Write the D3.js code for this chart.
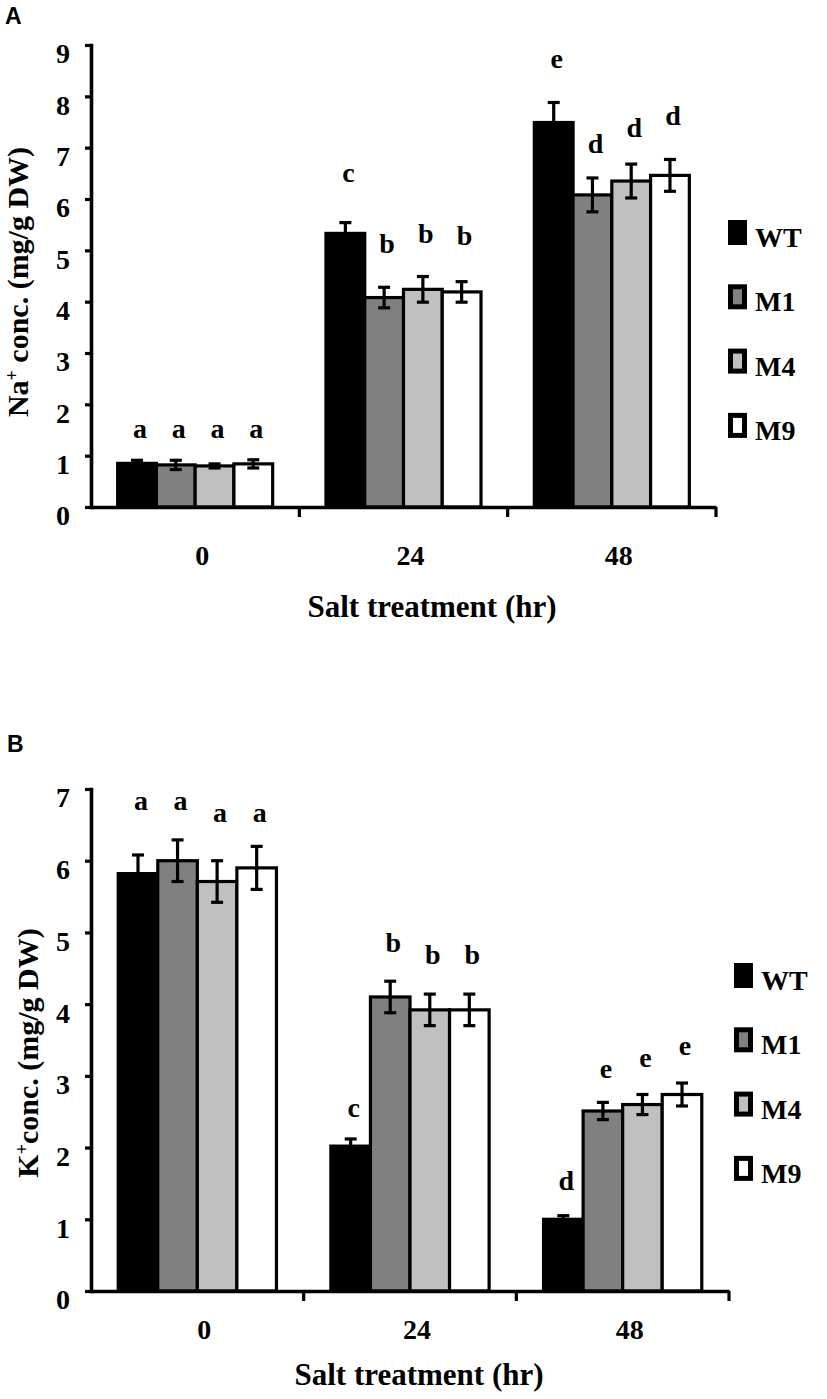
<!DOCTYPE html>
<html>
<head>
<meta charset="utf-8">
<script src="https://cdn.jsdelivr.net/npm/d3@7"></script>
<style>
  body { margin: 0; background: #fff; }
  text { font-family: 'Liberation Serif', 'Times New Roman', serif; font-weight: bold; fill: #000; }
</style>
</head>
<body>
<div id="chart"></div>
<script>
// categories / series
const groups = ['0', '24', '48'];
const series = ['WT', 'M1', 'M4', 'M9'];
const fills = ['#000000', '#808080', '#c0c0c0', '#ffffff'];

// panel A: Na+ (rows = groups, cols = series)
const naMean = [[0.85, 0.82, 0.80, 0.84], [5.33, 4.08, 4.24, 4.19], [7.49, 6.08, 6.35, 6.46]];
const naErr = [[0.06, 0.09, 0.04, 0.08], [0.21, 0.20, 0.25, 0.20], [0.39, 0.33, 0.33, 0.31]];
const naLetters = [['a', 'a', 'a', 'a'], ['c', 'b', 'b', 'b'], ['e', 'd', 'd', 'd']];
const naLetterAt = [[1.34, 1.34, 1.34, 1.34], [6.33, 4.95, 5.14, 5.10], [8.55, 6.90, 7.21, 7.44]];
const naTicks = [0, 1, 2, 3, 4, 5, 6, 7, 8, 9];

// panel B: K+
const kMean = [[5.82, 6.00, 5.71, 5.90], [2.02, 4.10, 3.92, 3.92], [1.00, 2.51, 2.60, 2.74]];
const kErr = [[0.26, 0.29, 0.29, 0.30], [0.10, 0.22, 0.22, 0.22], [0.05, 0.12, 0.14, 0.16]];
const kLetters = [['a', 'a', 'a', 'a'], ['c', 'b', 'b', 'b'], ['d', 'e', 'e', 'e']];
const kLetterAt = [[6.71, 6.71, 6.54, 6.54], [2.43, 4.73, 4.56, 4.56], [1.41, 2.97, 3.13, 3.29]];
const kTicks = [0, 1, 2, 3, 4, 5, 6, 7];

const width = 827, height = 1399;

const svg = d3.select('#chart')
  .append('svg')
  .attr('width', width)
  .attr('height', height);

function drawPanel(p) {
  const g = svg.append('g');

  const y = d3.scaleLinear().domain([0, p.ticks[p.ticks.length - 1]]).range([p.bottom, p.top]);
  const x0 = d3.scaleBand().domain(groups).range([p.left, p.right]).padding(0);
  const gw = x0.bandwidth();
  const bw = gw * 0.744;
  const x1 = d3.scaleBand().domain(series).range([(gw - bw) / 2, (gw + bw) / 2]).padding(0);

  const rows = [];
  groups.forEach((grp, i) => {
    series.forEach((s, j) => {
      rows.push({ grp, s, j, v: p.mean[i][j], e: p.err[i][j], letter: p.letters[i][j], at: p.letterAt[i][j] });
    });
  });

  // bars
  g.selectAll('rect.bar')
    .data(rows)
    .join('rect')
    .attr('class', 'bar')
    .attr('x', d => x0(d.grp) + x1(d.s))
    .attr('y', d => y(d.v))
    .attr('width', x1.bandwidth())
    .attr('height', d => y(0) - y(d.v))
    .attr('fill', d => fills[d.j])
    .attr('stroke', '#000')
    .attr('stroke-width', 3.2);

  // error bars
  const eb = g.selectAll('g.err')
    .data(rows)
    .join('g')
    .attr('class', 'err')
    .attr('transform', d => `translate(${x0(d.grp) + x1(d.s) + x1.bandwidth() / 2},0)`)
    .attr('stroke', '#000')
    .attr('stroke-width', 3.2);
  eb.append('line').attr('y1', d => y(d.v - d.e)).attr('y2', d => y(d.v + d.e));
  eb.append('line').attr('x1', -6).attr('x2', 6).attr('y1', d => y(d.v + d.e)).attr('y2', d => y(d.v + d.e));
  eb.append('line').attr('x1', -6).attr('x2', 6).attr('y1', d => y(d.v - d.e)).attr('y2', d => y(d.v - d.e));

  // significance letters
  g.selectAll('text.sig')
    .data(rows)
    .join('text')
    .attr('class', 'sig')
    .attr('x', d => x0(d.grp) + x1(d.s) + x1.bandwidth() / 2 + 3)
    .attr('y', d => y(d.at))
    .attr('text-anchor', 'middle')
    .style('font-size', '28px')
    .text(d => d.letter);

  // y axis
  const yAxis = g.append('g')
    .attr('transform', `translate(${p.left},0)`)
    .call(d3.axisLeft(y).tickValues(p.ticks).tickSize(6).tickSizeOuter(0).tickPadding(15).tickFormat(d3.format('d')));
  yAxis.select('.domain').attr('stroke-width', 3.6).attr('stroke-linecap', 'square');
  yAxis.selectAll('.tick line').attr('stroke-width', 3.2);
  yAxis.selectAll('.tick text')
    .attr('transform', 'translate(0,9)')
    .style('font-size', '28px')
    .style('font-family', "'Liberation Serif', 'Times New Roman', serif")
    .style('font-weight', 'bold');

  // x axis (labels at band centres, ticks at band edges)
  const xAxis = g.append('g')
    .attr('transform', `translate(0,${p.bottom})`)
    .call(d3.axisBottom(x0).tickSize(0).tickSizeOuter(0));
  xAxis.select('.domain').attr('stroke-width', 3.6);
  xAxis.selectAll('.tick text')
    .attr('x', 7)
    .attr('y', p.xLabelOffset)
    .attr('dy', null)
    .style('font-size', '28px')
    .style('font-family', "'Liberation Serif', 'Times New Roman', serif")
    .style('font-weight', 'bold');
  xAxis.selectAll('line.edge')
    .data(groups)
    .join('line')
    .attr('class', 'edge')
    .attr('x1', d => x0(d) + gw)
    .attr('x2', d => x0(d) + gw)
    .attr('y1', 0)
    .attr('y2', 10)
    .attr('stroke', '#000')
    .attr('stroke-width', 3.2);

  // axis titles
  g.append('text')
    .attr('x', p.xTitleX)
    .attr('y', p.xTitleY)
    .attr('text-anchor', 'middle')
    .style('font-size', '31px')
    .text('Salt treatment (hr)');

  const yt = g.append('text')
    .attr('transform', `translate(${p.yTitleX},${p.yTitleY}) rotate(-90)`)
    .attr('text-anchor', 'middle')
    .style('font-size', '30px');
  yt.append('tspan').text(p.ion);
  yt.append('tspan').attr('baseline-shift', 'super').style('font-size', '18px').text('+');
  yt.append('tspan').text(p.yTitleRest);

  // legend
  const lg = g.selectAll('g.leg')
    .data(series)
    .join('g')
    .attr('class', 'leg')
    .attr('transform', (d, i) => `translate(${p.legendX},${p.legendTop + i * 64.3})`);
  lg.append('rect')
    .attr('x', 2.5)
    .attr('y', 2.5)
    .attr('width', 14)
    .attr('height', 20)
    .attr('fill', (d, i) => fills[i])
    .attr('stroke', '#000')
    .attr('stroke-width', 5);
  lg.append('text')
    .attr('x', 27)
    .attr('y', 27)
    .style('font-size', '28px')
    .text(d => d);

  // panel letter
  svg.append('text')
    .attr('x', p.labelX)
    .attr('y', p.labelY)
    .style('font-family', "'Liberation Sans', Arial, sans-serif")
    .style('font-size', '23px')
    .text(p.label);
}

drawPanel({
  label: 'A', labelX: 5, labelY: 24,
  mean: naMean, err: naErr, letters: naLetters, letterAt: naLetterAt, ticks: naTicks,
  top: 45, bottom: 507, left: 91, right: 716,
  xLabelOffset: 58, xTitleX: 432, xTitleY: 617,
  ion: 'Na', yTitleRest: ' conc. (mg/g DW)', yTitleX: 28, yTitleY: 282,
  legendX: 728, legendTop: 220
});

drawPanel({
  label: 'B', labelX: 7, labelY: 752,
  mean: kMean, err: kErr, letters: kLetters, letterAt: kLetterAt, ticks: kTicks,
  top: 789, bottom: 1291, left: 91, right: 729,
  xLabelOffset: 48, xTitleX: 419, xTitleY: 1385,
  ion: 'K', yTitleRest: 'conc. (mg/g DW)', yTitleX: 38, yTitleY: 1053,
  legendX: 734, legendTop: 963
});
</script>
</body>
</html>
